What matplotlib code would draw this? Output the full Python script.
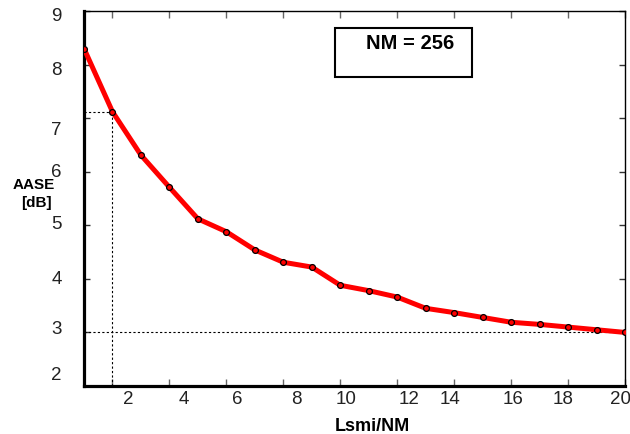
import matplotlib
matplotlib.use('Agg')
import matplotlib.pyplot as plt
from matplotlib.patches import Rectangle

plt.rcParams['font.family'] = ['Liberation Sans', 'DejaVu Sans']

# data
lsmi_nm = list(range(1, 21))
aase_db = [8.30, 7.12, 6.31, 5.71, 5.12, 4.88, 4.54, 4.31, 4.22, 3.88,
           3.78, 3.66, 3.45, 3.37, 3.28, 3.19, 3.15, 3.10, 3.05, 3.00]

x_ticks = [2, 4, 6, 8, 10, 12, 14, 16, 18, 20]
x_tick_labels = ['2', '4', '6', '8', '10', '12', '14', '16', '18', '20']
y_ticks = [2, 3, 4, 5, 6, 7, 8, 9]
y_tick_labels = ['2', '3', '4', '5', '6', '7', '8', '9']

# the labels in the original sit a bit off their ticks
x_label_pos = [2.55, 4.51, 6.37, 8.45, 10.2, 12.42, 13.86, 16.07, 17.82, 19.83]
y_label_pos = [2.21, 3.08, 4.01, 5.04, 6.0, 6.78, 7.90, 8.91]

ref_x = 2
ref_level = 3

fig = plt.figure(figsize=(6.3, 4.35), dpi=100)
ax = fig.add_axes([84 / 630, 1 - 387 / 435, 541 / 630, 375 / 435])

ax.plot(lsmi_nm, aase_db, color='#ff0000', lw=3.6, zorder=3,
        solid_capstyle='round', solid_joinstyle='round')
ax.plot(lsmi_nm, aase_db, 'o', ms=4.2, mfc='#ff0000', mec='black', mew=0.9,
        zorder=4)

# dashed guide lines
y_ref = aase_db[lsmi_nm.index(ref_x)]
ax.plot([ref_x, ref_x], [y_ticks[0], y_ref], color='black', lw=0.8,
        ls=(0, (2, 2)), zorder=2)
ax.plot([lsmi_nm[0], ref_x], [y_ref, y_ref], color='black', lw=0.8,
        ls=(0, (2, 2)), zorder=2)
ax.plot([lsmi_nm[0], lsmi_nm[-1]], [ref_level, ref_level], color='black',
        lw=0.8, ls=(0, (2, 2)), zorder=2)

ax.set_xlim(lsmi_nm[0], lsmi_nm[-1])
ax.set_ylim(y_ticks[0], y_ticks[-1])
ax.set_xticks(x_ticks)
ax.set_yticks(y_ticks)
ax.set_xticklabels([])
ax.set_yticklabels([])
ax.tick_params(axis='x', direction='in', top=True, length=5, width=1,
               color='#666666')
ax.tick_params(axis='y', direction='in', right=True, length=4, width=1,
               color='#333333')

for side in ['left', 'bottom']:
    ax.spines[side].set_linewidth(2.3)
for side in ['top', 'right']:
    ax.spines[side].set_linewidth(1.0)

# tick labels placed as text
for xp, lab in zip(x_label_pos, x_tick_labels):
    ax.annotate(lab, (xp, y_ticks[0]), xytext=(0, -13), textcoords='offset pixels',
                ha='center', va='center', fontsize=13.5, color='#222222',
                annotation_clip=False)
for yp, lab in zip(y_label_pos, y_tick_labels):
    ax.annotate(lab, (lsmi_nm[0], yp), xytext=(-22, 0), textcoords='offset pixels',
                ha='right', va='center', fontsize=13.5, color='#222222',
                annotation_clip=False)

# axis labels
fig.text(372 / 630, 1 - 427 / 435, 'Lsmi/NM', ha='center', va='center',
         fontsize=13, fontweight='bold')
fig.text(34 / 630, 1 - 185 / 435, 'AASE', ha='center', va='center',
         fontsize=11, fontweight='bold')
fig.text(36 / 630, 1 - 203 / 435, '[dB]', ha='center', va='center',
         fontsize=11, fontweight='bold')

# NM box
ax.add_patch(Rectangle((0.464, 0.824), 0.253, 0.131, transform=ax.transAxes,
                       fill=False, lw=1.5, ec='black', zorder=5))
ax.text(0.603, 0.917, 'NM = 256', transform=ax.transAxes, ha='center',
        va='center', fontsize=14.5, fontweight='bold')

fig.savefig('out.png', dpi=100)
